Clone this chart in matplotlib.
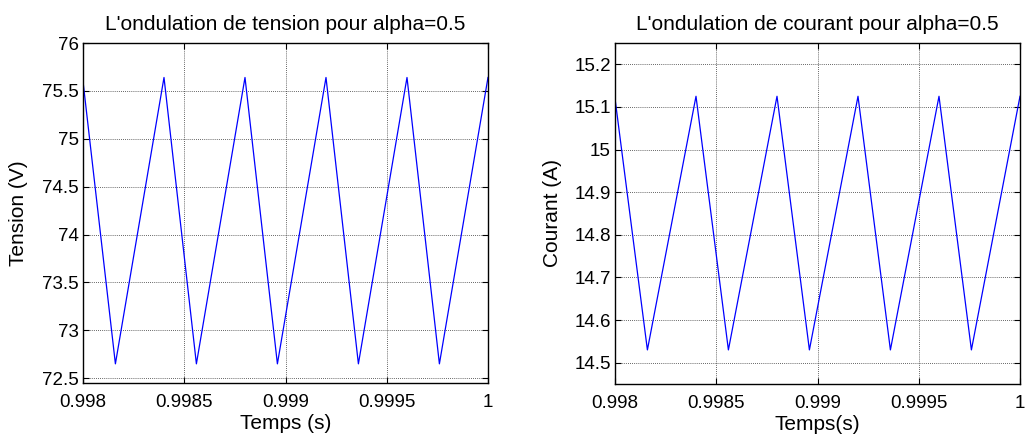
import matplotlib
matplotlib.use("Agg")
import matplotlib.pyplot as plt
from matplotlib.ticker import FixedLocator, FixedFormatter

plt.rcParams['font.family'] = ['Liberation Sans', 'DejaVu Sans']

# Data (vertices of the triangular ripple)
t_tension = [0.998, 0.99816, 0.9984, 0.99856, 0.9988, 0.99896, 0.9992, 0.99936, 0.9996, 0.99976, 1.0]
v_tension = [75.60, 72.65, 75.64, 72.65, 75.64, 72.65, 75.64, 72.65, 75.64, 72.65, 75.64]

t_courant = [0.998, 0.99816, 0.9984, 0.99856, 0.9988, 0.99896, 0.9992, 0.99936, 0.9996, 0.99976, 1.0]
i_courant = [15.12, 14.53, 15.125, 14.53, 15.125, 14.53, 15.125, 14.53, 15.125, 14.53, 15.125]

x_ticks = [0.998, 0.9985, 0.999, 0.9995, 1.0]
x_labels = ['0.998', '0.9985', '0.999', '0.9995', '1']
y1_ticks = [72.5, 73, 73.5, 74, 74.5, 75, 75.5, 76]
y1_labels = ['72.5', '73', '73.5', '74', '74.5', '75', '75.5', '76']
y2_ticks = [14.5, 14.6, 14.7, 14.8, 14.9, 15.0, 15.1, 15.2]
y2_labels = ['14.5', '14.6', '14.7', '14.8', '14.9', '15', '15.1', '15.2']

fig = plt.figure(figsize=(10.26, 4.38), dpi=100)
W, H = 1026, 438
ax1 = fig.add_axes([83 / W, 1 - 383 / H, 405 / W, 340 / H])
ax2 = fig.add_axes([615 / W, 1 - 384 / H, 405 / W, 341 / H])

def style(ax, yt, yl):
    ax.xaxis.set_major_locator(FixedLocator(x_ticks))
    ax.xaxis.set_major_formatter(FixedFormatter(x_labels))
    ax.yaxis.set_major_locator(FixedLocator(yt))
    ax.yaxis.set_major_formatter(FixedFormatter(yl))
    ax.grid(True, color='#333333', linestyle=(0, (1, 1.5)), linewidth=0.6)
    ax.tick_params(axis='both', direction='in', top=True, right=True, length=4, width=0.8,
                   labelsize=13.5)
    ax.tick_params(axis='x', pad=8)
    ax.tick_params(axis='y', pad=3)
    for s in ax.spines.values():
        s.set_linewidth(1.0)
        s.set_color('black')

ax1.plot(t_tension, v_tension, color='#0000ff', linewidth=0.9)
ax1.set_xlim(0.998, 1.0)
ax1.set_ylim(72.45, 76)
style(ax1, y1_ticks, y1_labels)
ax1.set_title("L'ondulation de tension pour alpha=0.5", fontsize=15, pad=9)
ax1.set_xlabel('Temps (s)', fontsize=15, labelpad=2)
ax1.set_ylabel('Tension (V)', fontsize=15, labelpad=10)

ax2.plot(t_courant, i_courant, color='#0000ff', linewidth=0.9)
ax2.set_xlim(0.998, 1.0)
ax2.set_ylim(14.45, 15.25)
style(ax2, y2_ticks, y2_labels)
ax2.set_title("L'ondulation de courant pour alpha=0.5", fontsize=15, pad=9)
ax2.set_xlabel('Temps(s)', fontsize=15, labelpad=2)
ax2.set_ylabel('Courant (A)', fontsize=15, labelpad=9)

fig.savefig('out.png', dpi=100)
